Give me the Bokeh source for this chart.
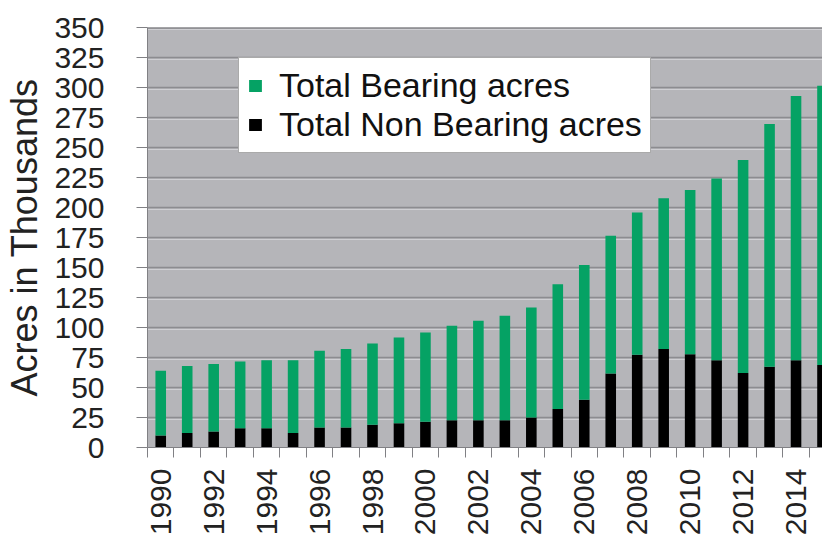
import math
from bokeh.plotting import figure
from bokeh.models import (ColumnDataSource, Range1d, FixedTicker, Legend, LegendItem, Span, Grid)
from bokeh.embed import file_html
from bokeh.resources import INLINE

years = list(range(1990, 2016))
non_bearing = [10, 12, 13.4, 16, 16, 12, 16.7, 16.7, 19, 20.3, 21.4, 22.8, 22.8,
               22.8, 25, 32, 39.7, 61.7, 77.2, 82, 77.8, 72.8, 62, 67.2, 72.8, 68.7]
bearing = [54, 56, 56.1, 55.7, 56.8, 60.8, 63.9, 65.3, 67.7, 71.4, 74.4, 78.6, 82.8,
           86.9, 91.7, 104, 112.3, 114.7, 118.6, 125.8, 136.7, 151.4, 177.5, 202.3, 220.2, 232.7]
y_ticks = list(range(0, 351, 25))
x_label_years = list(range(1990, 2016, 2))

source = ColumnDataSource(data=dict(year=years, non_bearing=non_bearing, bearing=bearing))

FONT = "Liberation Sans"
GREEN = "#05a264"

p = figure(width=822, height=541, output_backend="svg", toolbar_location=None,
           x_range=Range1d(1989.5, 2015.0), y_range=Range1d(0, 350),
           min_border_left=147, min_border_right=0, min_border_top=27, min_border_bottom=94)

p.background_fill_color = "#b5b5b9"
p.border_fill_color = "white"
p.outline_line_color = None

# grid: dark line with a lighter line just below (embossed look)
p.xgrid.grid_line_color = None
p.ygrid.grid_line_color = "#8c8c90"
p.ygrid.grid_line_width = 1.5
p.ygrid.ticker = FixedTicker(ticks=y_ticks)
light_grid = Grid(dimension=1, ticker=FixedTicker(ticks=[t - 1.3 for t in y_ticks[1:]]),
                  grid_line_color="#cfcfd3", grid_line_width=1)
p.add_layout(light_grid)

renderers = p.vbar_stack(["non_bearing", "bearing"], x="year", width=0.4,
                         color=["black", GREEN], line_color=None, source=source)

# top border line
p.add_layout(Span(location=350, dimension="width", line_color="#6f6f73", line_width=2))

# y axis
p.yaxis.ticker = FixedTicker(ticks=y_ticks)
p.yaxis.axis_label = "Acres in Thousands"
p.yaxis.axis_label_text_font = FONT
p.yaxis.axis_label_text_font_size = "36px"
p.yaxis.axis_label_text_font_style = "normal"
p.yaxis.axis_label_text_color = "#222222"
p.yaxis.axis_label_standoff = 6
p.yaxis.major_label_text_font = FONT
p.yaxis.major_label_text_font_size = "30px"
p.yaxis.major_label_text_color = "#222222"
p.yaxis.major_label_standoff = 32
p.yaxis.major_tick_out = 11
p.yaxis.major_tick_in = 0
p.yaxis.minor_tick_line_color = None
p.yaxis.axis_line_color = "#808084"
p.yaxis.major_tick_line_color = "#808084"

# x axis
boundaries = [y - 0.5 for y in years] + [years[-1] + 0.5]
p.xaxis.ticker = FixedTicker(ticks=x_label_years, minor_ticks=boundaries)
p.xaxis.major_label_orientation = math.pi / 2
p.xaxis.major_label_text_font = FONT
p.xaxis.major_label_text_font_size = "30px"
p.xaxis.major_label_text_color = "#222222"
p.xaxis.major_label_standoff = 11
p.xaxis.major_tick_out = 0
p.xaxis.major_tick_in = 0
p.xaxis.minor_tick_out = 10
p.xaxis.minor_tick_in = 0
p.xaxis.minor_tick_line_color = "#808084"
p.xaxis.axis_line_color = "#808084"

legend = Legend(items=[LegendItem(label="Total Bearing acres", renderers=[renderers[1]]),
                       LegendItem(label="Total Non Bearing acres", renderers=[renderers[0]])],
                location=(91, 294))
legend.label_text_font = FONT
legend.label_text_font_size = "34px"
legend.label_text_color = "#111111"
legend.glyph_width = 16
legend.glyph_height = 15
legend.label_standoff = 16
legend.padding = 8
legend.spacing = 0
legend.margin = 0
legend.border_line_color = "#555555"
legend.border_line_width = 1.5
legend.background_fill_color = "white"
legend.background_fill_alpha = 1.0
p.add_layout(legend)

open("out.html", "w").write(file_html(p, INLINE))
